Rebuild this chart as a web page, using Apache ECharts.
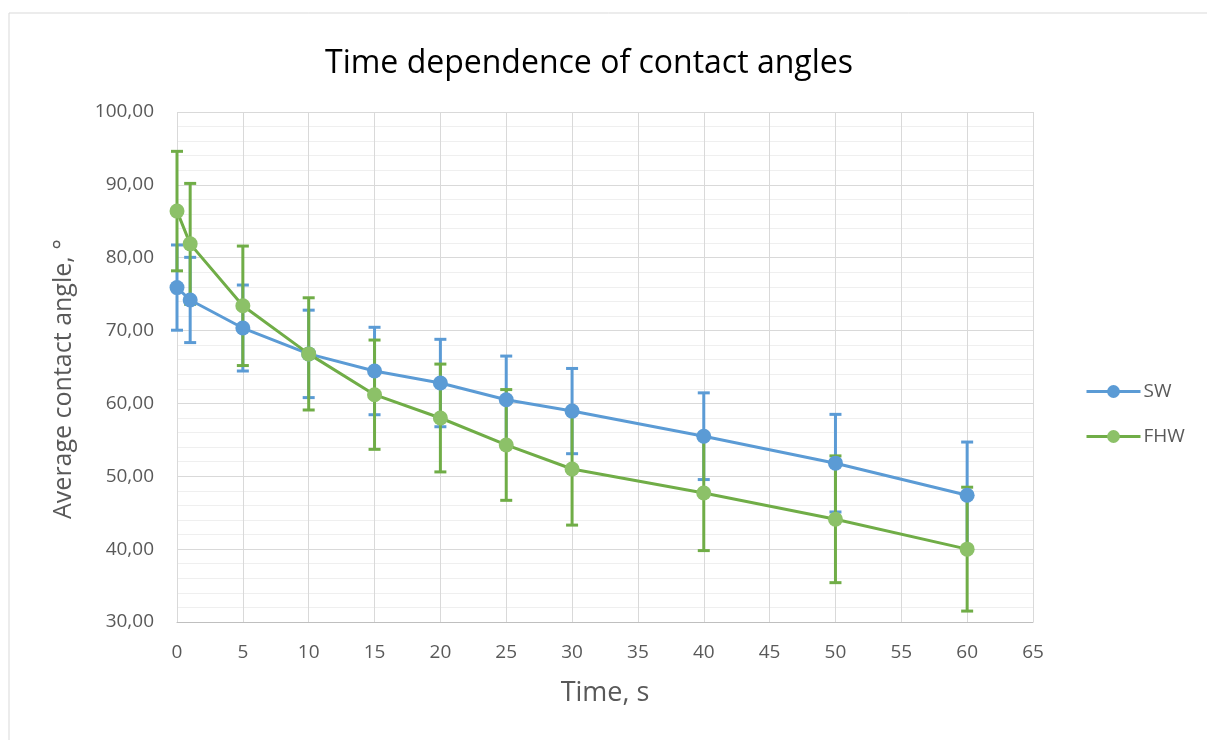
<!DOCTYPE html>
<html><head><meta charset="utf-8">
<script src="https://cdn.jsdelivr.net/npm/echarts@6/dist/echarts.min.js"></script>
<style>html,body{margin:0;padding:0;background:#fff}#c{width:1207px;height:740px}</style>
</head><body><div id="c"></div>
<script>
var times = [0, 1, 5, 10, 15, 20, 25, 30, 40, 50, 60];
var swValues = [75.9, 74.2, 70.35, 66.8, 64.45, 62.8, 60.5, 58.95, 55.5, 51.8, 47.4];
var swErrors = [5.85, 5.85, 5.9, 6.0, 6.0, 6.0, 6.0, 5.85, 5.95, 6.7, 7.3];
var fhwValues = [86.4, 81.9, 73.4, 66.8, 61.2, 58.0, 54.3, 51.0, 47.7, 44.1, 40.0];
var fhwErrors = [8.2, 8.3, 8.2, 7.7, 7.5, 7.4, 7.6, 7.7, 7.9, 8.7, 8.5];
var seriesNames = ['SW', 'FHW'];
var title = 'Time dependence of contact angles';
var xTitle = 'Time, s';
var yTitle = 'Average contact angle, °';

var blue = '#5B9BD5', green = '#70AD47', greenMarker = '#8CC168';
var FONT = 'Open Sans';

function pairs(vals) { return times.map(function (t, i) { return [t, vals[i]]; }); }
function errData(vals, errs) { return times.map(function (t, i) { return [t, vals[i], errs[i]]; }); }
function errRender(color) {
  return function (params, api) {
    var x = api.value(0), y = api.value(1), e = api.value(2);
    var top = api.coord([x, y + e]), bot = api.coord([x, y - e]);
    var hw = 6, st = { stroke: color, lineWidth: 3 };
    return { type: 'group', children: [
      { type: 'line', shape: { x1: top[0], y1: top[1], x2: bot[0], y2: bot[1] }, style: st },
      { type: 'line', shape: { x1: top[0] - hw, y1: top[1], x2: top[0] + hw, y2: top[1] }, style: st },
      { type: 'line', shape: { x1: bot[0] - hw, y1: bot[1], x2: bot[0] + hw, y2: bot[1] }, style: st }
    ]};
  };
}

var chart = echarts.init(document.getElementById('c'), null, { renderer: 'canvas' });
chart.setOption({
  animation: false,
  backgroundColor: '#fff',
  graphic: [
    { type: 'rect', shape: { x: 9, y: 13, width: 1300, height: 800 }, style: { fill: 'none', stroke: '#D9D9D9', lineWidth: 1 }, silent: true },
    { type: 'text', x: 589, y: 64, silent: true,
      style: { text: title, fontFamily: FONT, fontSize: 32, fill: '#000', align: 'center', verticalAlign: 'middle' } },
    { type: 'text', x: 64, y: 379, rotation: Math.PI / 2, silent: true,
      style: { text: yTitle, fontFamily: FONT, fontSize: 25, fill: '#595959', align: 'center', verticalAlign: 'middle' } }
  ],
  legend: {
    orient: 'vertical', left: 1080, top: 377, itemWidth: 54, itemHeight: 16, itemGap: 26,
    data: seriesNames,
    lineStyle: { width: 3 },
    textStyle: { fontFamily: FONT, fontSize: 19, color: '#595959', padding: [0, 0, 0, -2] }
  },
  grid: { left: 177, right: 174, top: 112, bottom: 118, containLabel: false },
  xAxis: {
    type: 'value', min: 0, max: 65, interval: 5,
    name: xTitle, nameLocation: 'middle', nameGap: 58,
    nameTextStyle: { fontFamily: FONT, fontSize: 27, color: '#595959' },
    axisLine: { show: true, lineStyle: { color: '#BFBFBF', width: 1 } },
    axisTick: { show: false },
    axisLabel: { fontFamily: FONT, fontSize: 19, color: '#595959', margin: 21 },
    splitLine: { show: true, lineStyle: { color: '#D9D9D9', width: 1 } }
  },
  yAxis: {
    type: 'value', min: 30, max: 100, interval: 10,
    axisLine: { show: false },
    axisTick: { show: false },
    axisLabel: { fontFamily: FONT, fontSize: 19, color: '#595959', margin: 23, formatter: function (v) { return v.toFixed(2).replace('.', ','); } },
    splitLine: { show: true, lineStyle: { color: '#D9D9D9', width: 1 } },
    minorTick: { show: false, splitNumber: 5 },
    minorSplitLine: { show: true, lineStyle: { color: '#EFEFEF', width: 1 } }
  },
  series: [
    { name: 'SW-err', type: 'custom', renderItem: errRender(blue), data: errData(swValues, swErrors), z: 2, silent: true },
    { name: 'FHW-err', type: 'custom', renderItem: errRender(green), data: errData(fhwValues, fhwErrors), z: 2, silent: true },
    { name: seriesNames[0], type: 'line', data: pairs(swValues), symbol: 'circle', symbolSize: 15,
      lineStyle: { color: blue, width: 3 }, itemStyle: { color: blue }, z: 3 },
    { name: seriesNames[1], type: 'line', data: pairs(fhwValues), symbol: 'circle', symbolSize: 15,
      lineStyle: { color: green, width: 3 }, itemStyle: { color: greenMarker }, z: 4 }
  ]
});
</script></body></html>
